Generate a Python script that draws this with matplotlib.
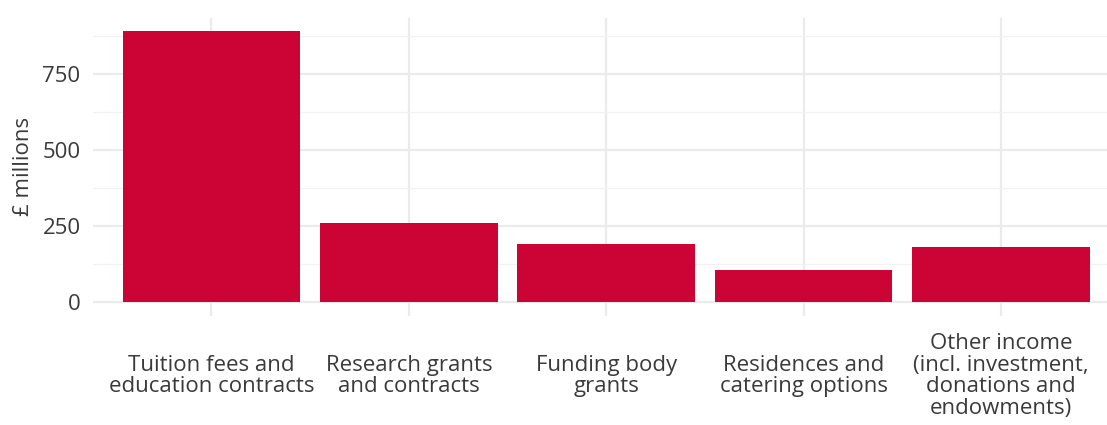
import matplotlib
matplotlib.use("Agg")
import matplotlib.pyplot as plt
from matplotlib.ticker import MultipleLocator

categories = ["Tuition fees and\neducation contracts",
              "Research grants\nand contracts",
              "Funding body\ngrants",
              "Residences and\ncatering options",
              "Other income\n(incl. investment,\ndonations and\nendowments)"]
values = [891, 259, 190, 105, 181]
y_ticks = [0, 250, 500, 750]

plt.rcParams['font.family'] = ['Open Sans', 'DejaVu Sans']
W, H = 1107, 425
fig = plt.figure(figsize=(W/100, H/100), dpi=100)
left, right, top, bottom = 93, 1107, 17.6, 315.5
ax = fig.add_axes([left/W, 1-bottom/H, (right-left)/W, (bottom-top)/H])

x = list(range(1, len(values)+1))
ax.bar(x, values, width=0.9, color='#CC0335', zorder=3)
ymax = max(values)
ax.set_ylim(-0.05*ymax, 1.05*ymax)
ax.set_xlim(0.4, 0.4 + (right-left)/197.4)

ax.set_yticks(y_ticks)
ax.yaxis.set_minor_locator(MultipleLocator(125))
ax.set_xticks(x)
ax.set_xticklabels(categories, linespacing=1.04, va='center', ha='center')
ax.tick_params(axis='x', length=0, pad=43.5, labelsize=16, colors='#3a3a3a')
ax.tick_params(axis='y', which='both', length=0, pad=9, labelsize=16, colors='#3a3a3a')
ax.grid(True, which='major', color='#ebebeb', linewidth=1.6, zorder=0)
ax.grid(True, which='minor', axis='y', color='#f2f2f2', linewidth=0.9, zorder=0)
for s in ax.spines.values():
    s.set_visible(False)
ax.set_ylabel('£ millions', fontsize=16, color='#3a3a3a', va='center')
ax.yaxis.set_label_coords(-0.069, 0.5)

fig.savefig('out.png', dpi=100)
